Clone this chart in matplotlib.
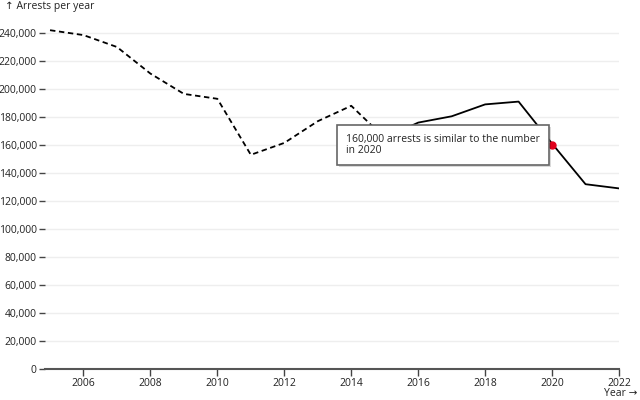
import matplotlib.pyplot as plt
import matplotlib.patheffects as pe
from matplotlib.ticker import FuncFormatter

plt.rcParams['font.family'] = ['Open Sans', 'DejaVu Sans']

# 데이터
years_old = [2005, 2006, 2007, 2008, 2009, 2010, 2011, 2012, 2013, 2014, 2015]
arrests_old = [242000, 238500, 230000, 211000, 196500, 193000, 153000, 161500, 177000, 188000, 165000]
years_new = [2015, 2016, 2017, 2018, 2019, 2020, 2021, 2022]
arrests_new = [165000, 176000, 180500, 189000, 191000, 161000, 132000, 129000]
point_year = 2020
point_value = 160000
note_text = '160,000 arrests is similar to the number\nin 2020'
x_ticks = list(range(2006, 2023, 2))
y_ticks = list(range(0, 240001, 20000))

fig = plt.figure(figsize=(6.4, 4.0), dpi=100)
ax = fig.add_axes([45 / 640, 31 / 400, 574 / 640, 344.4 / 400])

ax.set_xlim(2004.85, 2022)
ax.set_ylim(0, 246000)

for y in y_ticks[1:]:
    ax.axhline(y, color='#eeeeee', linewidth=1, zorder=0)

ax.plot(years_old, arrests_old, color='black', linewidth=1.3, linestyle=(0, (3, 2)), zorder=3)
ax.plot(years_new, arrests_new, color='black', linewidth=1.3, zorder=3)
ax.plot([point_year], [point_value], 'o', color='#e0001b', markersize=5, zorder=5)

# 주석 상자
note = ax.text(2013.84, 160000, note_text, fontsize=7.5, color='#222222',
               va='center', ha='left', linespacing=1.0,
               bbox=dict(boxstyle='square,pad=0.85', facecolor='white',
                         edgecolor='#666666', linewidth=1.2),
               zorder=6)
note.get_bbox_patch().set_path_effects([
    pe.SimplePatchShadow(offset=(1.5, -1.5), shadow_rgbFace='#000000', alpha=0.15),
    pe.Normal()])

for side in ['top', 'right', 'left']:
    ax.spines[side].set_visible(False)
ax.spines['bottom'].set_color('#555555')
ax.spines['bottom'].set_linewidth(1.5)

ax.set_xticks(x_ticks)
ax.set_yticks(y_ticks)
ax.yaxis.set_major_formatter(FuncFormatter(lambda v, p: f'{int(v):,}'))
ax.tick_params(axis='y', length=4, width=1, color='#444444', labelsize=7.5, labelcolor='#222222', pad=2)
ax.tick_params(axis='x', length=5, width=1, color='#444444', labelsize=7.5, labelcolor='#222222', pad=1.5)

fig.text(5 / 640, 1 - 6 / 400, '↑ Arrests per year', fontsize=7.5, color='#222222', va='center', ha='left')
fig.text(637 / 640, 1 - 396 / 400, 'Year →', fontsize=7.5, color='#222222', va='baseline', ha='right')

fig.savefig('out.png', dpi=100)
